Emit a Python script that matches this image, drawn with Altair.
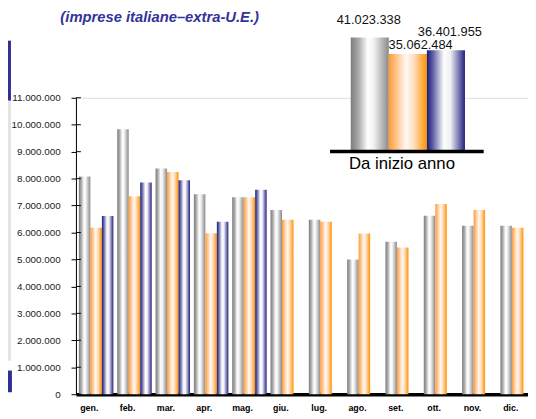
import altair as alt
import pandas as pd

# ---------------- data ----------------
months = ["gen.", "feb.", "mar.", "apr.", "mag.", "giu.", "lug.", "ago.", "set.", "ott.", "nov.", "dic."]
serie_grigia = [8080000, 9830000, 8380000, 7420000, 7310000, 6840000, 6470000, 5000000, 5660000, 6620000, 6250000, 6250000]
serie_arancio = [6180000, 7350000, 8250000, 5970000, 7310000, 6470000, 6400000, 5960000, 5440000, 7060000, 6840000, 6180000]
serie_blu = [6610000, 7860000, 7940000, 6400000, 7590000]
serie_nomi = ["grigia", "arancio", "blu"]
totali_valori = [41023338, 35062484, 36401955]
totali_etichette = ["41.023.338", "35.062.484", "36.401.955"]
y_ticks = [0, 1000000, 2000000, 3000000, 4000000, 5000000, 6000000, 7000000, 8000000, 9000000, 10000000, 11000000]

rows = []
for nome, serie in zip(serie_nomi, [serie_grigia, serie_arancio, serie_blu]):
    for m, v in zip(months, serie):
        rows.append({"mese": m, "serie": nome, "valore": v})
df = pd.DataFrame(rows)
df_ticks = pd.DataFrame({"valore": y_ticks})
df_tot = pd.DataFrame({"serie": serie_nomi, "totale": totali_valori, "etichetta": totali_etichette})
one = pd.DataFrame({"a": [0]})

FONT = "Liberation Sans"


def grad(stops):
    return alt.LinearGradient(
        gradient="linear",
        stops=[alt.GradientStop(color=c, offset=o) for o, c in stops],
        x1=0, x2=1, y1=0, y2=0,
    )


gradienti = {
    "grigia": grad([(0, "#7c7c7c"), (0.2, "#a9a9a9"), (0.45, "#ffffff"), (0.6, "#f2f2f2"), (1, "#8a8a8a")]),
    "arancio": grad([(0, "#ff9a33"), (0.2, "#ffc48c"), (0.45, "#fff8f2"), (0.65, "#ffe0c2"), (1, "#ff9200")]),
    "blu": grad([(0, "#1a1a7e"), (0.15, "#5c5ca3"), (0.45, "#ffffff"), (0.62, "#eeeef5"), (1, "#22227f")]),
}

# ---------------- main chart ----------------
x_enc = alt.X(
    "mese:N", sort=months,
    scale=alt.Scale(domain=months, range=[0, 469], paddingInner=0.1, paddingOuter=0.077),
    axis=alt.Axis(title=None, labelAngle=0, labelFontWeight="bold", labelFontSize=9, labelFont=FONT,
                  labelColor="black", ticks=False, domainColor="black", domainWidth=3.5,
                  labelPadding=10, labelOffset=-7, grid=False),
)
xoff_enc = alt.XOffset("serie:N", scale=alt.Scale(domain=serie_nomi, paddingInner=0, paddingOuter=0))
y_enc = alt.Y(
    "valore:Q",
    scale=alt.Scale(domain=[0, 11000000], nice=False),
    axis=alt.Axis(title=None, values=y_ticks, grid=False, tickSize=5, tickColor="black",
                  domainColor="black", labelFontSize=10, labelFont=FONT, labelColor="#222222",
                  labelPadding=11,
                  labelExpr="replace(format(datum.value, ','), regexp(',', 'g'), '.')"),
)

bar_layers = []
for nome in serie_nomi:
    bar_layers.append(
        alt.Chart(df).transform_filter(alt.datum.serie == nome)
        .mark_bar(color=gradienti[nome])
        .encode(x=x_enc, xOffset=xoff_enc, y=y_enc)
    )

tick_in = alt.Chart(df_ticks).mark_rule(color="black").encode(
    y=y_enc, x=alt.value(0), x2=alt.value(5)
)

main = alt.layer(*bar_layers, tick_in)

# ---------------- inset "Da inizio anno" ----------------
xi = alt.X("serie:N", scale=alt.Scale(domain=serie_nomi, range=[279, 395], paddingInner=0, paddingOuter=0), axis=None)
yi = alt.Y("totale:Q", scale=alt.Scale(domain=[0, 45000000], range=[54.7, -72.5], nice=False), axis=None)

inset_layers = []
offsets = {"grigia": (-1, -18), "arancio": (13, -9.5), "blu": (4, -19)}
for nome in serie_nomi:
    base = alt.Chart(df_tot).transform_filter(alt.datum.serie == nome)
    inset_layers.append(base.mark_bar(color=gradienti[nome]).encode(x=xi, y=yi))
    dx, dy = offsets[nome]
    inset_layers.append(
        base.mark_text(font=FONT, fontSize=13, color="#111111", baseline="middle", dx=dx, dy=dy)
        .encode(x=xi, y=yi, text="etichetta:N")
    )

inset = alt.layer(*inset_layers)

# ---------------- decorations ----------------
inset_base = alt.Chart(one).mark_rule(color="black", strokeWidth=3.5).encode(
    x=alt.value(258), x2=alt.value(414), y=alt.value(54.5)
)
inset_label = alt.Chart(one).mark_text(font=FONT, fontSize=17, color="black", baseline="alphabetic").encode(
    x=alt.value(331), y=alt.value(72), text=alt.value("Da inizio anno")
)
title = alt.Chart(one).mark_text(font=FONT, fontSize=15, fontWeight="bold", fontStyle="italic",
                                 color="#333399", baseline="middle").encode(
    x=alt.value(85), y=alt.value(-82), text=alt.value("(imprese italiane\u2013extra-U.E.)")
)
pan1 = alt.Chart(one).mark_rect(color="#2e3192").encode(
    x=alt.value(-69), x2=alt.value(-66), y=alt.value(-58), y2=alt.value(3))
pan2 = alt.Chart(one).mark_rect(color="#e3e3e3").encode(
    x=alt.value(-69), x2=alt.value(-66), y=alt.value(3), y2=alt.value(267))
pan3 = alt.Chart(one).mark_rect(color="#2e3192").encode(
    x=alt.value(-69), x2=alt.value(-65), y=alt.value(277), y2=alt.value(299))

chart = (
    alt.layer(main, inset, inset_base, inset_label, title, pan1, pan2, pan3)
    .resolve_scale(x="independent", y="independent")
    .properties(width=459, height=301, autosize=alt.AutoSizeParams(type="none"),
                padding={"left": 69, "top": 88, "right": 0, "bottom": 22})
    .configure_view(stroke=None)
    .configure(font=FONT)
)

chart.save("out.html", embed_options={"renderer": "svg", "actions": False})
